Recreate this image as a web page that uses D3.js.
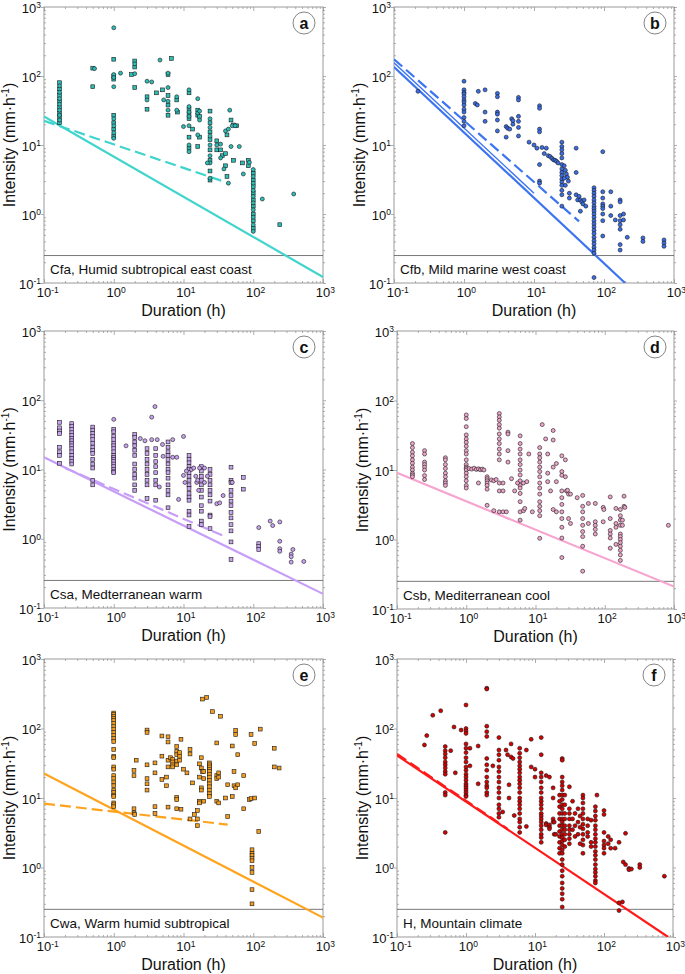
<!DOCTYPE html>
<html><head><meta charset="utf-8">
<script src="https://cdn.jsdelivr.net/npm/d3@7"></script>
<style>body{margin:0;background:#fff}svg{display:block;font-family:"Liberation Sans",Arial,Helvetica,sans-serif}</style>
</head><body><svg id="chart" width="685" height="974"></svg>
<script>
// ---------- tick labels ----------
const tickValues = [0.1, 1, 10, 100, 1000];
const tickExponents = ["-1", "0", "1", "2", "3"];
const bandLevel = 0.25;

// ---------- panel a: Cfa ----------
const aCols = [
  [0.167, [80,72,65,58,52,47,43,39,35,32,29,27,25,23,21]],
  [1, [500,175,105,100,95,90,70,27,24,21,19,17,15,13.5,12.5]],
  [2, [165,150,135,108,68]],
  [6, [110,105,68,52,43,38,32,27]],
  [12, [63,57,36,33,30,28,26,24,19,13,10,9,8]],
  [24, [31,24,21,18,15.5,13.5,12,10,8.5,7,6,5.5,4.2,3.3,3.1]],
  [100, [4.4,3.9,3.5,3.1,2.8,2.5,2.2,2.0,1.8,1.6,1.45,1.3,1.15,1.0,0.9,0.8,0.7,0.62,0.56]]
];
const aPts = [[0.5,130],[0.53,128],[0.5,70],[1.25,110],[1.8,105],[3,84],[3,50],[3,45],[3,33],[3.5,82],[4.1,57],[4.6,170],[5,63],[5.2,45],[6.7,180],
  [8,50],[8,45],[8,32],[8.2,30],[10,18.5],[13.5,17],[16,47],[16,32],[16,29],[16,27],[16,14],[16,9.5],[17,31],[17,26],[17,23],[17,13],
  [22,5.5],[30,11.5],[30,10],[30,8.5],[34,10.3],[34,8.5],[34,6.5],[36,7],[40,16],[42,14],[44,17],[40,7.5],[38,4.5],[42,3.5],[44,2.8],[40,5],
  [46,32],[48,23],[50,19],[52,19.5],[55,19],[58,19],[48,9.5],[52,6],[63,9.5],[70,5.5],[72,3.8],[85,6],[88,5.6],[85,5],[135,1.65],[240,0.7],[380,1.95]];
const aSolid = [[0.1,26],[1000,0.122]];
const aDashed = [[0.1,22.4],[40,2.9]];

// ---------- panel b: Cfb ----------
const bCols = [
  [1, [84,63,58,55,50,45,42,38,33,30,25,22,19]],
  [25, [11,9.5,8.5,7.5,6.5,5.2,4.5,4,3.6,3.2,2.9,2.6,2.2,1.9,1.3]],
  [72, [2.4,2.2,2.0,1.8,1.6,1.45,1.3,1.2,1.1,1.0,0.9,0.8,0.72,0.65,0.58,0.52,0.46,0.41,0.37,0.33,0.3,0.27,0.12]],
  [96, [8,2.1,1.7,1.4,1.3,1.2,1.0,0.8,0.48]],
  [170, [1.6,1.5,0.95,0.8,0.7,0.6,0.36,0.3]]
];
const bPts = [[0.22,60],[1.45,40],[1.55,38],[1.6,60],[2,63],[2,30],[2,22],[3,56],[3,50],[3,30],[3,28],[3,23],[3,16],[4,18.5],[4.2,17.5],[4.5,17],[4,13],[4.8,24],[5,22.5],[5,20],
  [6,49],[6,45],[6,26],[6,22],[6,18],[6,13.5],[8.5,11],[10,10],[11,9],[12,37],[12,34],[12,17],[12,15.5],[12,5.2],[12,3],[12,2.8],
  [13,9.2],[14,7.5],[15,9],[16,7],[17,6.8],[18,6.4],[19,6.1],[20,6],[21,5.8],[22,5.5],
  [27,5],[28,4.3],[29,3.8],[30,3.4],[31,3],[27,3.3],[28,2.6],[32,2],[32,1.7],
  [40,9],[40,4],[40,1.9],[42,1.6],[44,1.8],[46,1.6],[48,1.5],[50,1.4],[46,1.1],[52,1.6],[55,1.3],
  [125,2.1],[125,1.3],[125,0.95],[145,0.82],[190,1.0],[190,0.82],[215,0.46],[360,0.45],[360,0.4],[720,0.42],[720,0.38],[720,0.34]];
const bSolid = [[0.1,135],[200,0.1]];
const bSolid2 = [[0.1,155],[10,2.0]];
const bDashed = [[0.1,175],[44,0.78]];

// ---------- panel c: Csa ----------
const cCols = [
  [0.167, [48,40,36,33,21,18,16,12.3]],
  [0.25, [46,42,38,34,31,28,26,24,22,20,18,16,14.5,13,12]],
  [0.5, [41,37,33,30,27,24,21,19,17,14,12,10.5,7,6]],
  [1, [38,35,30,27,24,22,20,18,16,15,14,13,12,11,10,9.3,9]],
  [2, [32,29,25,22,19,16,12,10,8.5,7.5,6,5]],
  [3, [20,17,14,12,10,8.5,7,6,3.8]],
  [4, [20,16,13,11,9,7,6,3.6]],
  [6, [25,21,18,16,14,12,10,9,7.5,6,5,4.3,2.8]],
  [12, [16,14,12.5,11,10,9,8,7,6,5.3,4.5,4,3.6,2.5,2.2,1.5]],
  [18, [11,9.5,8,7,6,5,4,3,2.5,1.8,1.6]],
  [24, [10,8.5,7,6,5,4.3,3.5,2.2,2.1,1.4]],
  [48, [10.8,7,6.5,5,4.2,3.5,3,2.4,2,1.6,1.3,0.9,0.5]],
  [72, [7.7,5.2]],
  [120, [0.85,0.78,0.7]]
];
const cPts = [[1,53],[1.5,22],[2.4,28],[2.8,26],[3.5,57],[3.5,27],[3.9,81],[4.2,27],[4.5,5.6],[5,23],[5.1,15.5],[7,27],[7,15],[8,15],[8.5,3.7],[10,30],[10,8.2],[10.5,6.5],
  [11,9.5],[13,10],[14,10.5],[15,8],[15.5,6.5],[16,7],[16.5,5],[17,10.5],[20,6.5],[20,10.5],[22,8],[30,3.2],[33,3.3],[37,4.2],[50,6.5],
  [120,1.45],[175,1.8],[190,1.55],[240,1.75],[240,0.92],[240,0.72],[240,0.66],[350,0.6],[350,0.55],[350,0.46],[370,0.7],[530,0.47]];
const cSolid = [[0.1,15],[1000,0.16]];
const cDashed = [[0.2,10.5],[40,1.07]];

// ---------- panel d: Csb ----------
const dCols = [
  [0.167, [24,21,18,16,14,12.5,11,10,9,8.5,8]],
  [0.25, [19,17,13,12,11,10,8.3,7.3]],
  [0.5, [15,14,12,10.5,9,8,7,6.5,6]],
  [1, [62,55,42,32,28,25,22,19,17,14,12,11,10.5,10,9,8,7,6,5.5]],
  [2, [8,7.5,7,6.5,6,5.3,3.1]],
  [3, [65,58,52,45,40,33,28,24,20,17,14,6.5,5,2.5]],
  [6, [31,24,20,17,14,12,10,8.5,7,6,5.5,4.6,3.5,2.5,1.9]],
  [11.5, [21,17,15,13,11,9.5,8,6.5,5.5,4.5,3.5,3,2.6,2.2,1.04]],
  [24, [16,9.5,8.4,5,4,3.2,2.5,2,1.5,1.05,0.55]],
  [48, [4.3,3,2.5,2,1.6,1.3,1.1,0.8,0.35]],
  [168, [2.7,2.2,1.9,1.6,1.2,1.1,1.0,0.9,0.8,0.7,0.6,0.5]]
];
const dPts = [[1.1,10.5],[1.2,10.3],[1.3,10.6],[1.4,10.2],[1.5,10.4],[1.6,10.1],[1.7,10.3],[1.8,10],[1.5,6.5],[2.3,7.2],[2.5,7],[2.7,7.3],[2.5,2.6],
  [3.4,6.5],[3.4,5],[3.4,2.5],[3.8,2.5],[4,35],[4,33],[4,19],[4,13],[4.5,7.5],[5,5],[5.5,6.5],[6.7,6.5],[6.7,2.6],[7,2.8],[7.5,6.8],[8,17],[9,2.5],
  [12.5,45],[14,28],[15,17],[15,9],[15,6.8],[16.5,5],[18,37],[18,27],[18,11],[18,2.7],[20,12.4],[20,6.8],[20,2.5],
  [27,14],[27,8],[28,5],[29,5.1],[30,4.5],[30,2],[32,4.5],[32,1.7],[40,4],
  [58,3.3],[58,1.7],[73,3.3],[73,1.8],[73,1.6],[73,1.4],[73,1.2],[95,2.9],[97,2.7],[95,1.8],[120,4.1],[120,2],[120,1.35],[120,1.2],[120,1.05],[120,0.75],
  [145,2.8],[145,1.7],[145,1.5],[145,0.85],[180,1.9],[180,1.6],[190,4.2],[190,3],[195,2.9],[830,1.6]];
const dSolid = [[0.1,9.1],[1000,0.21]];

// ---------- panel e: Cwa ----------
const eCols = [
  [1, [167,160,150,140,130,118,108,98,88,80,72,65,50,40,38,28,26,21,19,17,15,13,12,11,10.5,8.5,8,7.5]],
  [23.5, [32,30,28,26,24,22,20,18,16,14.5,13,11.5,10.5]],
  [96, [1.8,1.6,1.5,1.35,1.25,1.0,0.85,0.48,0.3]]
];
const ePts = [[1.95,25],[1.95,21],[1.95,7],[1.95,6.1],[2,5.8],[2.1,35],[3,95],[3,88],[3,30],[3,19],[3,16],[3,13],[3.9,32],[3.9,23],[3.9,7.5],[3.9,6],
  [4.9,78],[4.9,40],[4.9,18.5],[5.7,20],[5.7,15],[6,76],[6,64],[6,35],[6,28],[6,7.4],[6.5,38],[7,36],[7,33],[7,30],[7,28],
  [8,55],[8,47],[8,42],[8,34],[8,30],[8,10.2],[8,9.5],[8,7],[8.8,45],[8.8,40],[8.8,35],[9.2,70],[9.2,6.9],
  [10,26],[11.2,23],[12.4,50],[12.4,43],[12.4,5],[13.5,16.5],[14.3,5.8],[15.8,6.6],[15.8,5],[15.8,4],
  [17,31],[17,20],[17,9],[17,8.5],[18,38],[18,27],[18,14],[18,13],[18.7,265],[18.7,24],[19.5,24],[19.5,19],[19.5,9],[21.5,280],
  [26,175],[30,62],[30,21],[30,19],[30,9],[32,23],[32,20],[32,8.5],[34,150],[40,10],[43,15.5],[43,5.4],
  [50,56],[50,10.5],[53,15],[53,24],[56,94],[56,82],[56,14],[60,42],[60,15.5],[73,21],[73,7],[88,9.5],[93,82],[93,9.8],
  [105,61],[105,10],[120,3.3],[126,98],[200,52],[200,28],[235,27]];
const eSolid = [[0.1,22.5],[1000,0.19]];
const eDashed = [[0.1,8.3],[43,4.15]];

// ---------- panel f: H ----------
const fCols = [
  [0.5, [55,48,43,38,33,30,27,24,22,12,11,3.2]],
  [1, [218,100,92,85,60,52,45,38,33,28,25,22,20,18,16,15,14,13,12,11,10.5]],
  [2, [380,370,108,90,77,37,30,25,20,17,15,14,12,11]],
  [3, [74,49,42,35,28,24,20,17,14,12,10,8,7,6,5.3]],
  [6, [52,44,38,33,29,26,23,20,18,16,14,12,10,9,8,7,6,5,4.5,3.8,3.2]],
  [12.3, [74,42,23,20,17,14,12,10,9,8,7,6,5.5,5,4.5,4,3.5,3,2.7,2.3]],
  [22.7, [11,9,7.5,6,5,4,3.3,2.8,2.3,1.9,1.6]],
  [24.8, [37,35,20,17,15,13,11,9.5,8,7,6,5,4.5,4,3.5,3,2.7,2.4,2.1,1.8,1.6,1.3,1.1,0.9,0.75,0.6,0.5,0.42,0.35,0.27]],
  [27, [11,8,6,5,4,3.5,3,2.5,2]],
  [31.5, [14.5,7,6,5,4,3.5,3,2.6,2.2]],
  [49.5, [11,10,8.5,7,6,5,4.2,3.6,3,2.5,2.1,1.6]],
  [75, [7.5,6.5,5.5,4.8,4,3.5,3,2.6,2.3,2,1.7,1.5,1.3,1.1,0.95,0.85,0.75,0.65,0.6]]
];
const fPts = [[0.25,58],[0.27,79],[0.33,155],[0.43,180],[0.6,48],[0.67,105],[0.7,23],[0.85,95],[1.14,52],[1.14,29],[1.5,56],[1.5,16],[2.45,29],
  [3.4,6.3],[3.8,49],[4,42],[4.2,15.5],[4.2,10],[4.5,60],[4.5,39],[4.8,37],[5,5.6],[7.5,49],[7.5,3.9],[8.8,70],[8.8,28],[10,26],[10,20],
  [14.5,21],[14.5,4.3],[14.5,4.1],[16.2,20],[16.2,4.1],[16.2,3.8],[16.2,3.6],[18.3,14],[18.3,10],[18.3,5],[18.3,4.5],[19,4.5],[19,3],[20,3],
  [35,9],[35,5],[35,3.5],[38,6],[38,4],[38,2.8],[42,7],[42,4.5],[42,3],[45,5.5],[45,3.8],[45,2.2],
  [58,5],[58,4],[58,3.2],[58,2.8],[65,4.8],[65,2.3],[65,2],[79,11],[100,6.6],[100,5.8],[100,3.2],[100,2.4],[100,2.1],[100,1.9],[100,1.6],
  [115,2.8],[115,2.2],[125,2.5],[125,1.9],[145,1.9],[165,2.3],[165,0.31],[165,0.24],[185,0.32],[190,1.2],[205,3.1],[205,1.1],[230,0.97],[230,0.93],[250,0.95],[330,1.1],[330,1.0],[750,0.75]];
const fSolid = [[0.1,41],[850,0.1]];
const fDashed = [[0.1,43],[4,3.6]];

// ---------- labels ----------
const panelLetters = ["a","b","c","d","e","f"];
const regionNames = ["Cfa, Humid subtropical east coast","Cfb, Mild marine west coast","Csa, Medterranean warm","Csb, Mediterranean cool","Cwa, Warm humid subtropical","H, Mountain climate"];

// ---------- layout / styles ----------
function flat(cols, pts){ const out=[]; cols.forEach(c=>c[1].forEach(v=>out.push([c[0],v]))); return out.concat(pts); }
const panels = [
  {x0:44,y0:7,w:279,h:276, pts:flat(aCols,aPts), shape:"mix", fill:"#2bbdb6", line:"#3fd4cc", solid:[aSolid], dashed:[aDashed]},
  {x0:394,y0:7,w:280,h:276, pts:flat(bCols,bPts), shape:"circle", fill:"#3a6ee8", line:"#3d74f0", solid:[bSolid,bSolid2], dashed:[bDashed]},
  {x0:44,y0:331,w:279,h:277, pts:flat(cCols,[]), pts2:cPts, shape:"square", fill:"#c9a2f0", line:"#c79ef7", solid:[cSolid], dashed:[cDashed]},
  {x0:397,y0:331,w:277,h:278, pts:flat(dCols,dPts), shape:"circle", fill:"#eea4c9", line:"#f7a4d0", solid:[dSolid], dashed:[]},
  {x0:44,y0:659,w:279,h:278, pts:flat(eCols,ePts), shape:"square", fill:"#f39c1e", line:"#ffa31c", solid:[eSolid], dashed:[eDashed]},
  {x0:397,y0:659,w:276,h:278, pts:flat(fCols,fPts), shape:"circle", fill:"#d50000", line:"#ff1a1a", solid:[fSolid], dashed:[fDashed]}
];

const svg = d3.select("#chart");
const minorVals = [];
[0.1,1,10,100].forEach(dec=>{ for(let k=2;k<=9;k++) minorVals.push(dec*k); });

function supLabel(sel, exp){
  sel.each(function(d,i){
    const t = d3.select(this);
    t.text(null);
    t.append("tspan").text("10");
    t.append("tspan").attr("dy",-4.5).attr("font-size",8.5).text(exp[i]);
  });
}

panels.forEach((p,pi)=>{
  const x = d3.scaleLog().domain([0.1,1000]).range([p.x0,p.x0+p.w]);
  const y = d3.scaleLog().domain([0.1,1000]).range([p.y0+p.h,p.y0]);
  const g = svg.append("g");
  const clipId = "clip"+pi;
  svg.append("clipPath").attr("id",clipId).append("rect").attr("x",p.x0).attr("y",p.y0).attr("width",p.w).attr("height",p.h);

  const ax = (a, tr, vals, size) => g.append("g").attr("transform",tr)
      .call(a.tickValues(vals).tickSize(size).tickFormat("").tickSizeOuter(0))
      .call(s=>{s.select(".domain").remove(); s.selectAll("line").attr("stroke","#777").attr("stroke-width",0.6);});
  ax(d3.axisBottom(x), `translate(0,${p.y0+p.h})`, minorVals, -2);
  ax(d3.axisTop(x), `translate(0,${p.y0})`, minorVals, -2);
  ax(d3.axisLeft(y), `translate(${p.x0},0)`, minorVals, -2);
  ax(d3.axisRight(y), `translate(${p.x0+p.w},0)`, minorVals, 2);
  ax(d3.axisBottom(x), `translate(0,${p.y0+p.h})`, tickValues, -4);
  ax(d3.axisTop(x), `translate(0,${p.y0})`, tickValues, -4);
  ax(d3.axisLeft(y), `translate(${p.x0},0)`, tickValues, 3);
  ax(d3.axisRight(y), `translate(${p.x0+p.w},0)`, tickValues, 3);

  g.append("rect").attr("x",p.x0).attr("y",p.y0).attr("width",p.w).attr("height",p.h)
    .attr("fill","none").attr("stroke","#9a9a9a").attr("stroke-width",1);

  g.append("line").attr("x1",p.x0).attr("x2",p.x0+p.w).attr("y1",y(bandLevel)).attr("y2",y(bandLevel))
    .attr("stroke","#555").attr("stroke-width",0.8);

  const xl = g.append("g").attr("font-size",13).attr("fill","#111");
  xl.selectAll("text").data(tickValues).join("text")
    .attr("x",d=>x(d)-7.2).attr("y",p.y0+p.h+14).attr("text-anchor","start")
    .call(supLabel, tickExponents);
  const yl = g.append("g").attr("font-size",13).attr("fill","#111");
  yl.selectAll("text").data(tickValues).join("text")
    .attr("x",p.x0-3).attr("y",d=>y(d)+5.5).attr("text-anchor","end")
    .call(supLabel, tickExponents);

  g.append("text").attr("x",p.x0+p.w/2).attr("y",p.y0+p.h+33).attr("text-anchor","middle")
    .attr("font-size",16).attr("fill","#111").text("Duration (h)");
  const yt = g.append("text").attr("transform",`translate(${p.x0-29},${p.y0+p.h/2}) rotate(-90)`)
    .attr("text-anchor","middle").attr("font-size",16).attr("fill","#111");
  yt.append("tspan").text("Intensity (mm·h");
  yt.append("tspan").attr("dy",-6).attr("font-size",10).text("-1");
  yt.append("tspan").attr("dy",6).text(")");

  g.append("text").attr("x",p.x0+6).attr("y",p.y0+p.h-9).attr("font-size",13.5).attr("fill","#111").text(regionNames[pi]);

  const lg = g.append("g").attr("clip-path",`url(#${clipId})`);
  const lineGen = d3.line().x(d=>x(d[0])).y(d=>y(d[1]));
  p.solid.forEach((s,si)=>lg.append("path").attr("d",lineGen(s)).attr("fill","none").attr("stroke",p.line).attr("stroke-width",si===0?2.2:1.4));
  p.dashed.forEach(s=>lg.append("path").attr("d",lineGen(s)).attr("fill","none").attr("stroke",p.line).attr("stroke-width",2.2).attr("stroke-dasharray","11,5"));

  const pg = g.append("g").attr("clip-path",`url(#${clipId})`).attr("stroke","#1a1a1a").attr("stroke-width",0.6).attr("fill",p.fill);
  const drawSq = (data)=>pg.selectAll(null).data(data).join("rect")
      .attr("x",d=>x(d[0])-1.9).attr("y",d=>y(d[1])-1.9).attr("width",3.8).attr("height",3.8);
  const drawCi = (data)=>pg.selectAll(null).data(data).join("circle")
      .attr("cx",d=>x(d[0])).attr("cy",d=>y(d[1])).attr("r",2);
  if(p.shape==="square") drawSq(p.pts);
  else if(p.shape==="circle") drawCi(p.pts);
  else { drawSq(p.pts.filter((d,i)=>i%2===0)); drawCi(p.pts.filter((d,i)=>i%2===1)); }
  if(p.pts2) drawCi(p.pts2);

  const cx = p.x0+p.w-19, cy = p.y0+16;
  g.append("circle").attr("cx",cx).attr("cy",cy).attr("r",11).attr("fill","#fff").attr("stroke","#777").attr("stroke-width",0.9);
  g.append("text").attr("x",cx).attr("y",cy+5.5).attr("text-anchor","middle").attr("font-size",16).attr("font-weight","bold").attr("fill","#111").text(panelLetters[pi]);
});
</script>
</body></html>
